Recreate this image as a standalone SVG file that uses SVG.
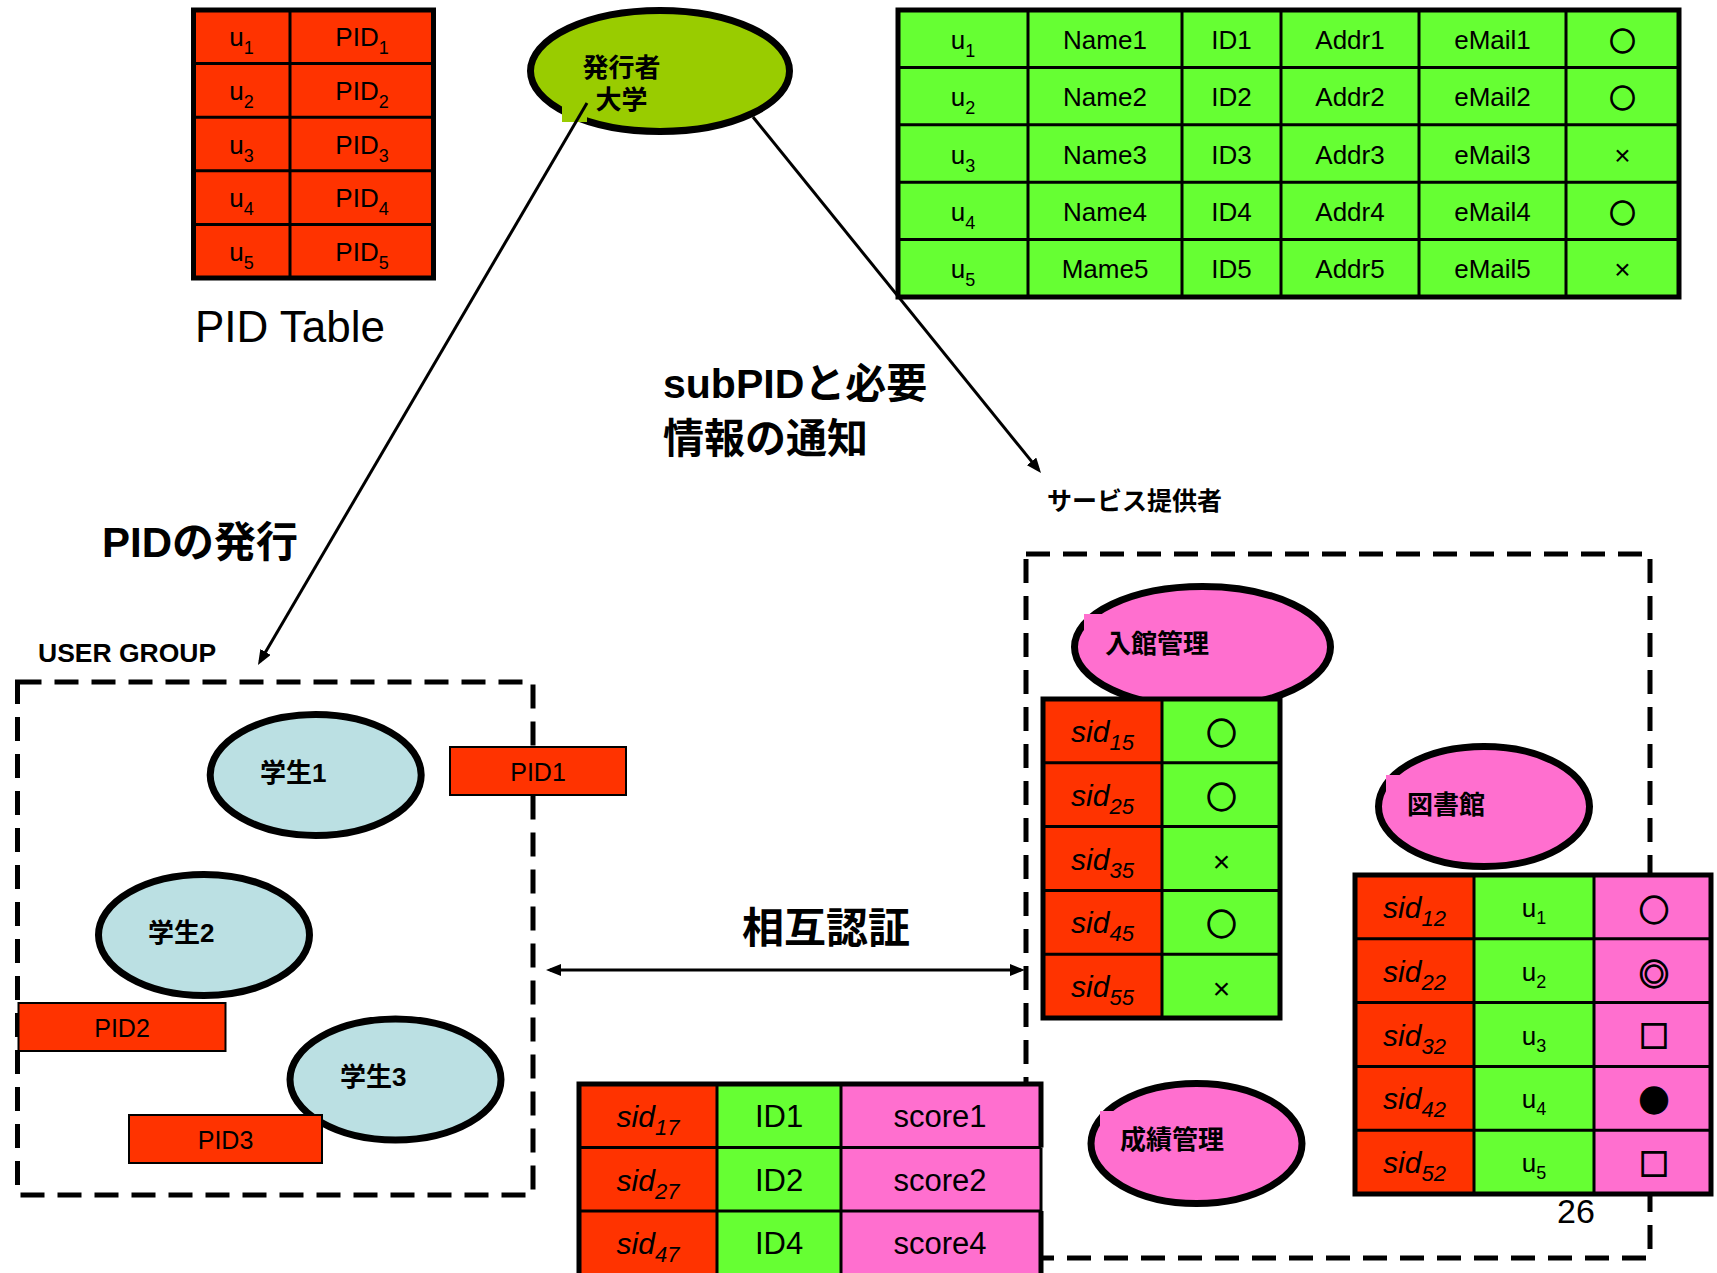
<svg xmlns="http://www.w3.org/2000/svg" width="1717" height="1273" viewBox="0 0 1717 1273">
<style>
  text { font-family: "Liberation Sans", "Noto Sans CJK JP", sans-serif; fill: #000; }
  .b { font-weight: bold; }
  .c { text-anchor: middle; }
  .cell { font-size: 26px; }
  .big { font-size: 31px; }
  .sid { font-size: 30px; font-style: italic; text-anchor: middle; }
  .sym { font-family: "Noto Sans CJK JP", "Noto Sans CJK SC", sans-serif; font-weight: bold; text-anchor: middle; stroke: #000; stroke-width: 1.3; }
  .lbl { font-size: 26px; font-weight: bold; }
  .or { fill: #FF3300; }
  .gr { fill: #66FF33; }
  .pk { fill: #FF6FCF; }
  .grid { stroke: #000; stroke-width: 3; fill: none; }
  .frame { stroke: #000; stroke-width: 5; fill: none; }
  .node { stroke: #000; stroke-width: 7; }
  .pidbox { fill: #FF3300; stroke: #000; stroke-width: 2; }
  .dash { fill: none; stroke: #000; stroke-width: 5; stroke-dasharray: 24 13; }
  .conn { stroke: #000; stroke-width: 3; fill: none; }
</style>
<defs>
  <marker id="ah" markerUnits="userSpaceOnUse" markerWidth="15" markerHeight="12" viewBox="0 0 15 12" refX="11" refY="6" orient="auto-start-reverse">
    <path d="M0 0 L15 6 L0 12 z" fill="#000"/>
  </marker>
</defs>

<rect width="1717" height="1273" fill="#fff"/>

<!-- PID table -->
<g id="pid-table">
  <rect class="or" x="193.5" y="10" width="240" height="268"/>
  <path class="grid" d="M290 10V278 M193.5 63.6H433.5 M193.5 117.2H433.5 M193.5 170.8H433.5 M193.5 224.4H433.5"/>
  <rect class="frame" x="193.5" y="10" width="240" height="268"/>
  <g class="cell c">
    <text class="c" x="241.5" y="46.3">u<tspan font-size="18" dy="8">1</tspan></text>
    <text class="c" x="241.5" y="99.9">u<tspan font-size="18" dy="8">2</tspan></text>
    <text class="c" x="241.5" y="153.5">u<tspan font-size="18" dy="8">3</tspan></text>
    <text class="c" x="241.5" y="207.1">u<tspan font-size="18" dy="8">4</tspan></text>
    <text class="c" x="241.5" y="260.7">u<tspan font-size="18" dy="8">5</tspan></text>
    <text class="c" x="362" y="46.3">PID<tspan font-size="18" dy="8">1</tspan></text>
    <text class="c" x="362" y="99.9">PID<tspan font-size="18" dy="8">2</tspan></text>
    <text class="c" x="362" y="153.5">PID<tspan font-size="18" dy="8">3</tspan></text>
    <text class="c" x="362" y="207.1">PID<tspan font-size="18" dy="8">4</tspan></text>
    <text class="c" x="362" y="260.7">PID<tspan font-size="18" dy="8">5</tspan></text>
  </g>
  <text x="195" y="342" font-size="44">PID Table</text>
</g>

<!-- issuer (university) -->
<g id="issuer">
  <ellipse class="node" cx="660" cy="71" rx="129.5" ry="60.5" fill="#99CC00"/>
  <rect x="562" y="104" width="25" height="18" fill="#99CC00"/>
  <text class="lbl c" x="621.5" y="77">発行者</text>
  <text class="lbl c" x="621.5" y="108.5">大学</text>
</g>

<!-- connectors -->
<g id="connectors">
  <line class="conn" x1="587" y1="103" x2="260" y2="661.5" marker-end="url(#ah)"/>
  <line class="conn" x1="753" y1="117" x2="1038.5" y2="469.9" marker-end="url(#ah)"/>
  <line class="conn" x1="550" y1="970" x2="1021" y2="970" marker-start="url(#ah)" marker-end="url(#ah)"/>
</g>

<!-- user attribute table -->
<g id="user-table">
  <rect class="gr" x="898" y="10" width="781" height="287"/>
  <path class="grid" d="M1028 10V297 M1182 10V297 M1281 10V297 M1419 10V297 M1566 10V297 M898 67.4H1679 M898 124.8H1679 M898 182.2H1679 M898 239.6H1679"/>
  <rect class="frame" x="898" y="10" width="781" height="287"/>
  <g class="cell">
    <text class="c" x="963" y="48.7">u<tspan font-size="18" dy="8">1</tspan></text>
    <text class="c" x="963" y="106.1">u<tspan font-size="18" dy="8">2</tspan></text>
    <text class="c" x="963" y="163.5">u<tspan font-size="18" dy="8">3</tspan></text>
    <text class="c" x="963" y="220.9">u<tspan font-size="18" dy="8">4</tspan></text>
    <text class="c" x="963" y="278.3">u<tspan font-size="18" dy="8">5</tspan></text>
    <text class="c" x="1105" y="48.7">Name1</text>
    <text class="c" x="1105" y="106.1">Name2</text>
    <text class="c" x="1105" y="163.5">Name3</text>
    <text class="c" x="1105" y="220.9">Name4</text>
    <text class="c" x="1105" y="278.3">Mame5</text>
    <text class="c" x="1231.5" y="48.7">ID1</text>
    <text class="c" x="1231.5" y="106.1">ID2</text>
    <text class="c" x="1231.5" y="163.5">ID3</text>
    <text class="c" x="1231.5" y="220.9">ID4</text>
    <text class="c" x="1231.5" y="278.3">ID5</text>
    <text class="c" x="1350" y="48.7">Addr1</text>
    <text class="c" x="1350" y="106.1">Addr2</text>
    <text class="c" x="1350" y="163.5">Addr3</text>
    <text class="c" x="1350" y="220.9">Addr4</text>
    <text class="c" x="1350" y="278.3">Addr5</text>
    <text class="c" x="1492.5" y="48.7">eMail1</text>
    <text class="c" x="1492.5" y="106.1">eMail2</text>
    <text class="c" x="1492.5" y="163.5">eMail3</text>
    <text class="c" x="1492.5" y="220.9">eMail4</text>
    <text class="c" x="1492.5" y="278.3">eMail5</text>
  </g>
  <text class="sym" x="1622.5" y="50.5" font-size="26">○</text>
  <text class="sym" x="1622.5" y="107.9" font-size="26">○</text>
  <text class="c" x="1622.5" y="164.5" font-size="28">×</text>
  <text class="sym" x="1622.5" y="222.7" font-size="26">○</text>
  <text class="c" x="1622.5" y="279.3" font-size="28">×</text>
</g>

<!-- free labels -->
<g id="labels">
  <text class="b" x="663" y="398" font-size="41">subPIDと必要</text>
  <text class="b" x="663" y="453" font-size="41">情報の通知</text>
  <text class="b" x="102" y="557" font-size="42">PIDの発行</text>
  <text class="b" x="38" y="662" font-size="26.5">USER GROUP</text>
  <text class="b" x="742" y="943" font-size="42">相互認証</text>
  <text class="b" x="1047" y="510" font-size="25">サービス提供者</text>
</g>

<!-- user group -->
<g id="user-group">
  <rect class="dash" x="17.5" y="682" width="515.5" height="513"/>
</g>
<g id="student1">
  <ellipse class="node" cx="315.7" cy="775" rx="105.5" ry="60.5" fill="#BBE0E3"/>
  <text class="lbl" x="260" y="782">学生1</text>
</g>
<g id="student2">
  <ellipse class="node" cx="204" cy="935" rx="105.5" ry="60.5" fill="#BBE0E3"/>
  <text class="lbl" x="148" y="941.5">学生2</text>
</g>
<g id="student3">
  <ellipse class="node" cx="395.5" cy="1079.5" rx="105.5" ry="60.5" fill="#BBE0E3"/>
  <text class="lbl" x="340" y="1086">学生3</text>
</g>
<g id="pid1">
  <rect class="pidbox" x="450" y="747" width="176" height="48"/>
  <text class="c" x="538" y="781" font-size="25">PID1</text>
</g>
<g id="pid2">
  <rect class="pidbox" x="18.5" y="1003" width="207" height="48"/>
  <text class="c" x="122" y="1037" font-size="25">PID2</text>
</g>
<g id="pid3">
  <rect class="pidbox" x="129" y="1115" width="193" height="48"/>
  <text class="c" x="225.5" y="1149" font-size="25">PID3</text>
</g>

<!-- service providers -->
<g id="service-providers">
  <rect class="dash" x="1026" y="554" width="624" height="704"/>
</g>

<g id="entrance">
  <ellipse class="node" cx="1202.5" cy="647" rx="128" ry="60.5" fill="#FF6FCF"/>
  <rect class="pk" x="1084" y="614" width="20" height="25"/>
  <text class="lbl" x="1105" y="653">入館管理</text>
</g>
<g id="entrance-table">
  <rect class="or" x="1043" y="699" width="119" height="319"/>
  <rect class="gr" x="1162" y="699" width="118" height="319"/>
  <path class="grid" d="M1162 699V1018 M1043 762.8H1280 M1043 826.6H1280 M1043 890.4H1280 M1043 954.2H1280"/>
  <rect class="frame" stroke-width="6" x="1043" y="699" width="237" height="319"/>
  <text class="sid" x="1102.5" y="742">sid<tspan font-size="22" dy="8">15</tspan></text>
  <text class="sid" x="1102.5" y="805.8">sid<tspan font-size="22" dy="8">25</tspan></text>
  <text class="sid" x="1102.5" y="869.6">sid<tspan font-size="22" dy="8">35</tspan></text>
  <text class="sid" x="1102.5" y="933.4">sid<tspan font-size="22" dy="8">45</tspan></text>
  <text class="sid" x="1102.5" y="997.2">sid<tspan font-size="22" dy="8">55</tspan></text>
  <text class="sym" x="1221.5" y="744" font-size="30">○</text>
  <text class="sym" x="1221.5" y="807.8" font-size="30">○</text>
  <text class="c" x="1221.5" y="871.5" font-size="30">×</text>
  <text class="sym" x="1221.5" y="935.4" font-size="30">○</text>
  <text class="c" x="1221.5" y="999" font-size="30">×</text>
</g>

<g id="library">
  <ellipse class="node" cx="1484" cy="806.5" rx="105.5" ry="60" fill="#FF6FCF"/>
  <rect class="pk" x="1386" y="775" width="20" height="25"/>
  <text class="lbl" x="1407" y="813.5">図書館</text>
</g>
<g id="library-table">
  <rect class="or" x="1355" y="875" width="119" height="319"/>
  <rect class="gr" x="1474" y="875" width="120" height="319"/>
  <rect class="pk" x="1594" y="875" width="117" height="319"/>
  <path class="grid" d="M1474 875V1194 M1594 875V1194 M1355 938.8H1711 M1355 1002.6H1711 M1355 1066.4H1711 M1355 1130.2H1711"/>
  <rect class="frame" stroke-width="6" x="1355" y="875" width="356" height="319"/>
  <text class="sid" x="1414.5" y="918">sid<tspan font-size="22" dy="8">12</tspan></text>
  <text class="sid" x="1414.5" y="981.8">sid<tspan font-size="22" dy="8">22</tspan></text>
  <text class="sid" x="1414.5" y="1045.6">sid<tspan font-size="22" dy="8">32</tspan></text>
  <text class="sid" x="1414.5" y="1109.4">sid<tspan font-size="22" dy="8">42</tspan></text>
  <text class="sid" x="1414.5" y="1173.2">sid<tspan font-size="22" dy="8">52</tspan></text>
  <g class="cell">
    <text class="c" x="1534" y="917">u<tspan font-size="18" dy="7">1</tspan></text>
    <text class="c" x="1534" y="980.8">u<tspan font-size="18" dy="7">2</tspan></text>
    <text class="c" x="1534" y="1044.6">u<tspan font-size="18" dy="7">3</tspan></text>
    <text class="c" x="1534" y="1108.4">u<tspan font-size="18" dy="7">4</tspan></text>
    <text class="c" x="1534" y="1172.2">u<tspan font-size="18" dy="7">5</tspan></text>
  </g>
  <text class="sym" x="1654" y="921" font-size="30">○</text>
  <text class="sym" x="1654" y="985" font-size="30" stroke-width="0.8">◎</text>
  <text class="sym" x="1654" y="1047" font-size="30">□</text>
  <text class="sym" x="1654" y="1112" font-size="30">●</text>
  <text class="sym" x="1654" y="1175" font-size="30">□</text>
</g>

<g id="grades">
  <ellipse class="node" cx="1196.5" cy="1143.5" rx="105.5" ry="60" fill="#FF6FCF"/>
  <rect class="pk" x="1100" y="1111" width="20" height="25"/>
  <text class="lbl" x="1120" y="1149">成績管理</text>
</g>
<g id="grades-table">
  <rect class="or" x="579" y="1084" width="138" height="191"/>
  <rect class="gr" x="717" y="1084" width="124" height="191"/>
  <rect class="pk" x="841" y="1084" width="200" height="191"/>
  <path class="grid" d="M717 1084V1275 M841 1084V1275 M579 1147.5H1041 M579 1211H1041 M1041 1147.5V1211"/>
  <path class="frame" d="M579 1275V1084H1041V1147.5 M1041 1211V1275"/>
  <text class="sid" x="648" y="1127">sid<tspan font-size="22" dy="8">17</tspan></text>
  <text class="sid" x="648" y="1190.5">sid<tspan font-size="22" dy="8">27</tspan></text>
  <text class="sid" x="648" y="1254">sid<tspan font-size="22" dy="8">47</tspan></text>
  <g class="big">
    <text class="c" x="779" y="1127">ID1</text>
    <text class="c" x="779" y="1190.5">ID2</text>
    <text class="c" x="779" y="1254">ID4</text>
    <text class="c" x="940" y="1127">score1</text>
    <text class="c" x="940" y="1190.5">score2</text>
    <text class="c" x="940" y="1254">score4</text>
  </g>
</g>

<text x="1557" y="1223" font-size="34">26</text>
</svg>
